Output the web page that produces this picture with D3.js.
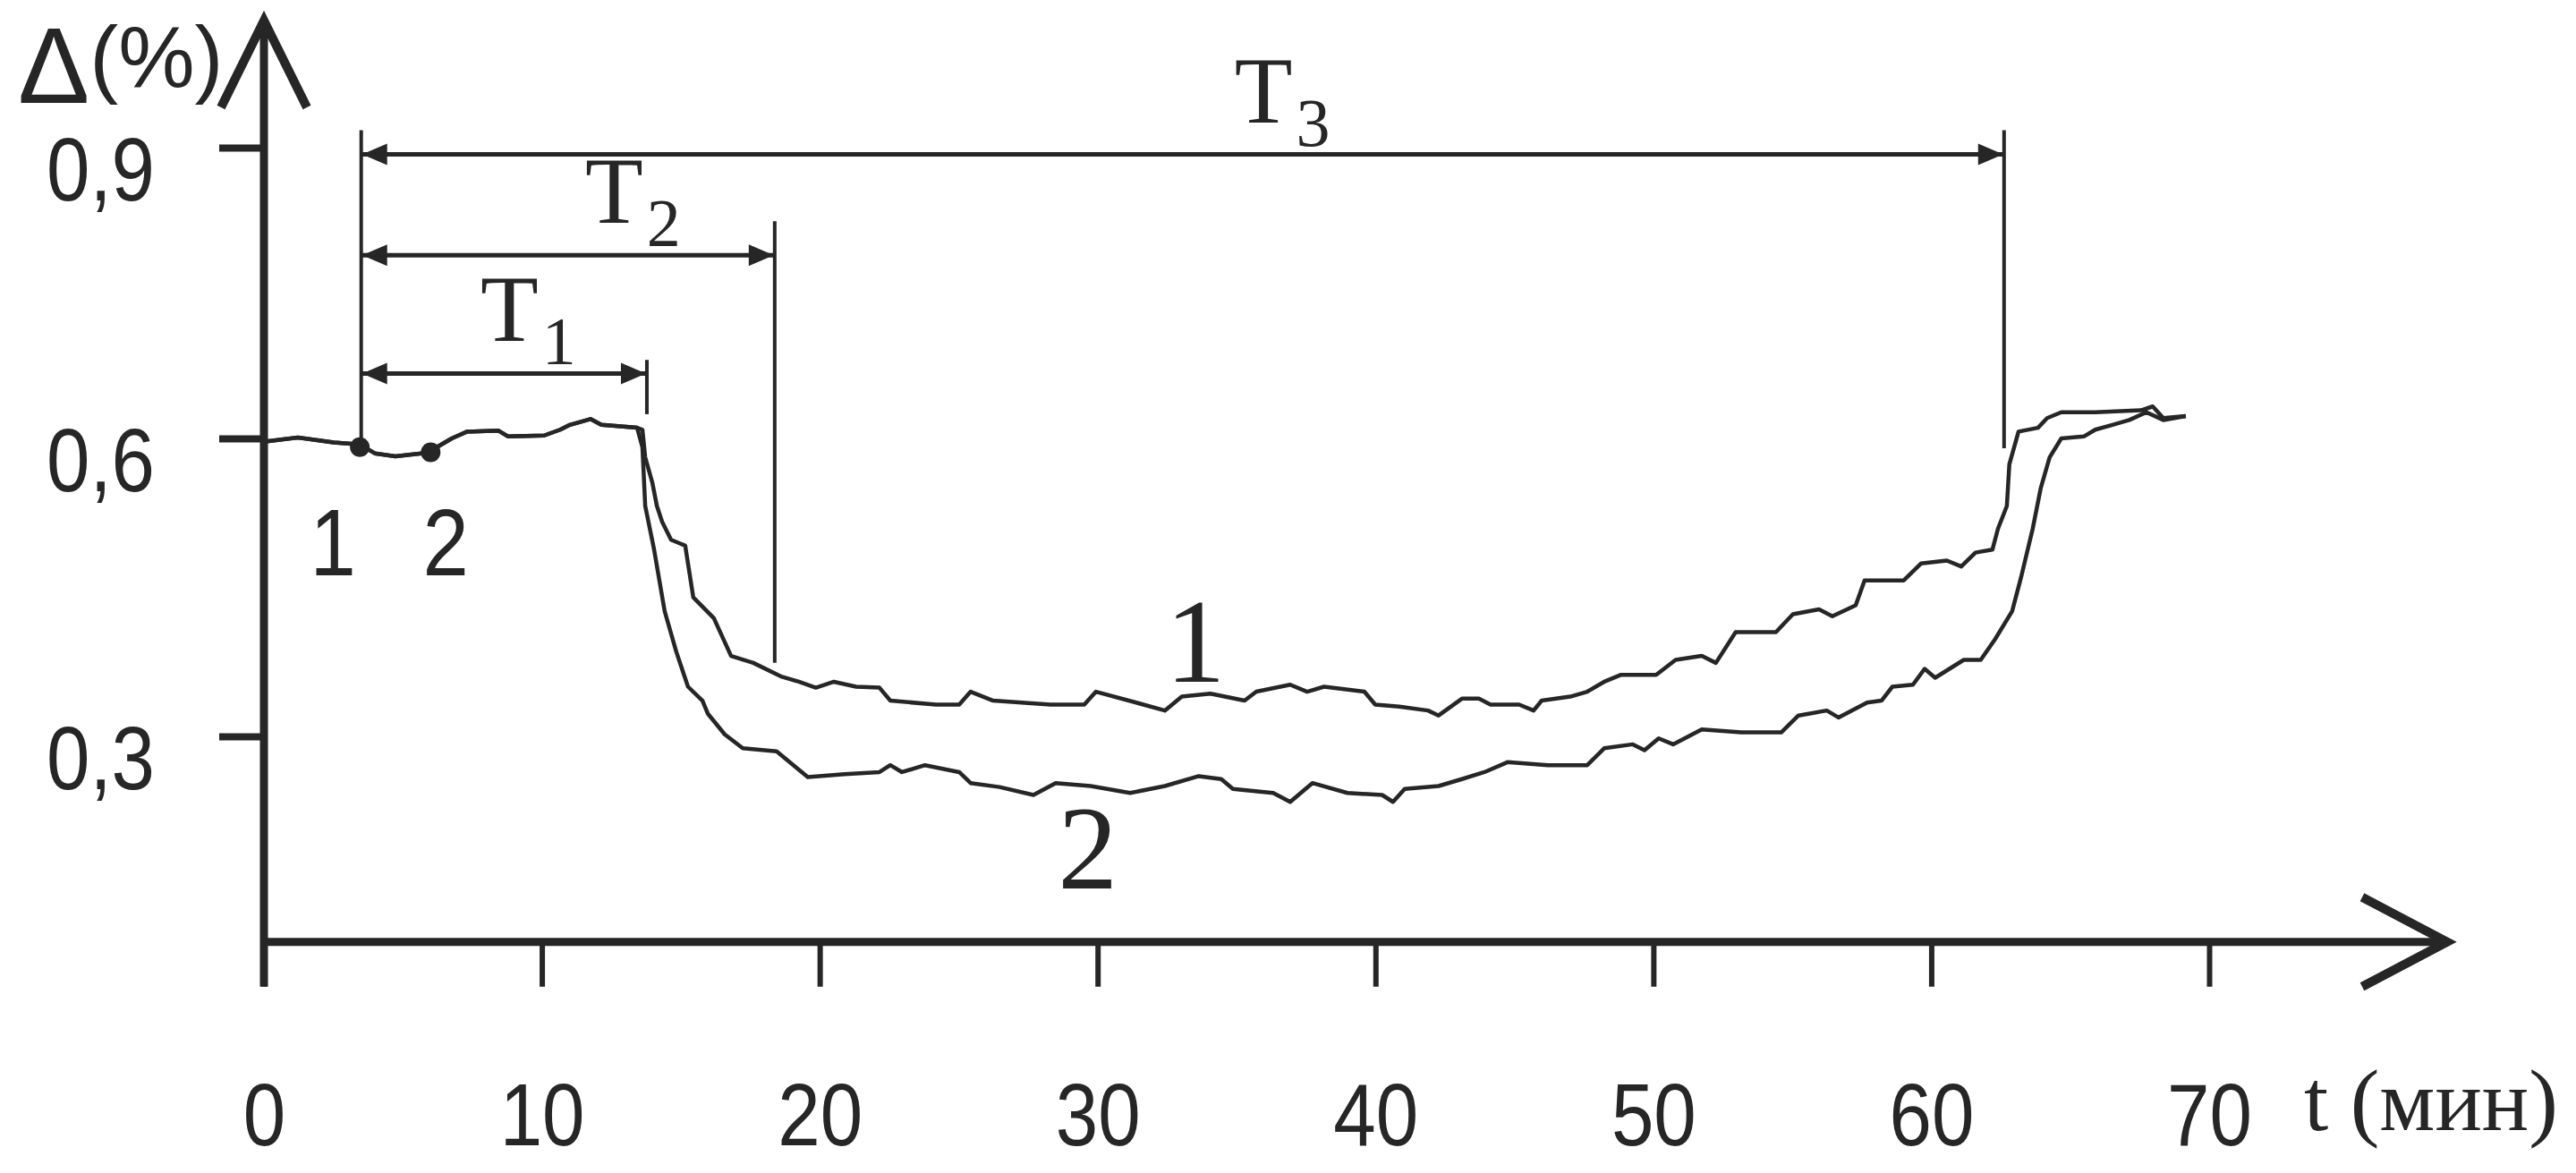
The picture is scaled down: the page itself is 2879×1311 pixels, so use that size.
<!DOCTYPE html>
<html>
<head>
<meta charset="utf-8">
<style>
  body { margin: 0; background: #fff; }
  svg { display: block; }
</style>
<title>Δ(%) от t</title>
</head>
<body>
<script src="https://cdn.jsdelivr.net/npm/d3@7/dist/d3.min.js"></script>
<script>
// common start of both traces: t (мин), Δ (%)
var tShared = [0, 0.11, 1.22, 2.51, 3.44, 3.99, 4.73, 5.67, 6.21, 6.76, 7.31, 8.44, 8.79, 10.08, 10.66, 11.01, 11.75, 12.14, 13.43];
var dShared = [0.600, 0.597, 0.601, 0.596, 0.594, 0.585, 0.582, 0.585, 0.591, 0.600, 0.607, 0.608, 0.602, 0.603, 0.609, 0.614, 0.620, 0.614, 0.611];

// curve 1
var t1 = [13.62, 13.72, 13.98, 14.14, 14.33, 14.65, 15.16, 15.45, 16.19, 16.81, 17.61, 18.64, 19.25, 19.86, 20.51, 21.31, 22.15, 22.54, 24.18, 25.02,
  25.43, 26.24, 28.30, 29.52, 29.94, 31.39, 32.42, 33.03, 34.06, 35.29, 35.71, 36.93, 37.54, 38.15, 39.60, 39.99, 40.86, 41.89, 42.27, 43.11,
  43.72, 44.14, 45.17, 45.69, 45.98, 47.01, 47.62, 48.23, 48.84, 50.10, 50.80, 51.74, 52.25, 52.96, 54.41, 55.02, 55.96, 56.44, 57.28, 57.60,
  59.01, 59.63, 60.56, 61.08, 61.59, 62.20, 62.40, 62.72, 62.81, 63.14, 63.84, 64.17, 64.68, 65.90, 67.55, 67.97, 68.35, 69.16];
var d1 = [0.609, 0.581, 0.555, 0.532, 0.516, 0.498, 0.492, 0.440, 0.419, 0.381, 0.374, 0.360, 0.355, 0.349, 0.355, 0.350, 0.349, 0.336, 0.332, 0.332,
  0.345, 0.336, 0.332, 0.332, 0.345, 0.334, 0.326, 0.340, 0.343, 0.336, 0.345, 0.352, 0.345, 0.350, 0.345, 0.332, 0.330, 0.326, 0.321, 0.338,
  0.338, 0.332, 0.332, 0.326, 0.336, 0.340, 0.345, 0.355, 0.362, 0.362, 0.377, 0.381, 0.374, 0.405, 0.405, 0.423, 0.428, 0.421, 0.432, 0.457,
  0.457, 0.474, 0.477, 0.471, 0.485, 0.488, 0.509, 0.532, 0.574, 0.607, 0.611, 0.621, 0.627, 0.627, 0.629, 0.633, 0.621, 0.623];

// curve 2
var t2 = [13.62, 13.72, 14.04, 14.42, 14.84, 15.26, 15.78, 15.97, 16.58, 17.23, 18.45, 19.57, 20.89, 22.15, 22.54, 22.96, 23.79, 25.02, 25.43, 26.47,
  27.69, 28.49, 29.75, 31.17, 32.42, 33.64, 34.45, 34.87, 36.32, 36.93, 37.73, 38.99, 40.24, 40.63, 41.05, 42.27, 43.11, 43.92, 44.75, 46.20,
  47.62, 48.23, 49.26, 49.68, 50.19, 50.71, 51.74, 53.16, 54.60, 55.22, 56.24, 56.66, 57.69, 58.21, 58.60, 59.34, 59.76, 60.14, 61.17, 61.78,
  62.30, 62.91, 63.23, 63.65, 63.94, 64.26, 64.68, 65.49, 65.90, 66.52, 67.13, 67.74, 68.35, 69.16];
var d2 = [0.591, 0.532, 0.488, 0.426, 0.385, 0.350, 0.336, 0.323, 0.302, 0.288, 0.285, 0.259, 0.262, 0.264, 0.271, 0.264, 0.271, 0.264, 0.253, 0.249,
  0.241, 0.253, 0.250, 0.243, 0.250, 0.260, 0.257, 0.247, 0.243, 0.234, 0.253, 0.243, 0.241, 0.234, 0.247, 0.250, 0.257, 0.264, 0.274, 0.271,
  0.271, 0.288, 0.292, 0.286, 0.298, 0.292, 0.307, 0.304, 0.304, 0.321, 0.326, 0.319, 0.334, 0.336, 0.350, 0.352, 0.368, 0.359, 0.377, 0.377,
  0.398, 0.426, 0.460, 0.509, 0.550, 0.581, 0.600, 0.602, 0.609, 0.614, 0.619, 0.627, 0.619, 0.623];

var xTicks = [0, 10, 20, 30, 40, 50, 60, 70];
var yTicks = [0.3, 0.6, 0.9];

// start marks of the two curves (t, мин)
var startNames = ["1", "2"];
var startTimes = [3.45, 6.0];
var startLabelT = [2.48, 6.54];
var startLabelD = 0.462;

// intervals T1, T2, T3
var intNames = ["1", "2", "3"];
var intFrom = 3.5;
var intTo = [13.78, 18.38, 62.62];
var intLevel = [0.667, 0.789, 0.893];
var intTop = [0.681, 0.824, 0.918];
var intBottom = [0.625, 0.374, 0.590];
var intLabelT = [7.79, 11.56, 34.93];
var intFromBottom = 0.591;

// curve names
var curveNames = ["1", "2"];
var curveLabelT = [33.52, 29.65];
var curveLabelD = [0.355, 0.147];

var W = 2879, H = 1311;
var ink = "#262626";
var sans = "'Liberation Sans', Arial, sans-serif";
var serif = "'Liberation Serif', 'Times New Roman', serif";

var x = d3.scaleLinear().domain([0, 70]).range([295, 2469]);
// the tick spacing of the original is not quite even
var y = d3.scaleLinear().domain([0.3, 0.6, 0.9]).range([823, 490, 165]);
var yBase = 0.093;   // level where the t axis crosses

var svg = d3.select("body").append("svg")
  .attr("width", W).attr("height", H)
  .style("background", "#fff");

var x0 = x(0), y0 = y(yBase);

// axes
var gx = svg.append("g")
  .attr("transform", "translate(0," + y0 + ")")
  .call(d3.axisBottom(x).tickValues(xTicks).tickSize(50).tickFormat(d3.format("d")));
gx.select(".domain").remove();
gx.selectAll(".tick line").attr("stroke", ink).attr("stroke-width", 6);
gx.selectAll(".tick text")
  .attr("y", 227).attr("dy", null)
  .attr("fill", ink)
  .attr("font-family", sans).attr("font-size", 98)
  .attr("transform", "scale(0.87,1)");

var gy = svg.append("g")
  .attr("transform", "translate(" + x0 + ",0)")
  .call(d3.axisLeft(y).tickValues(yTicks).tickSize(50)
    .tickFormat(function(d){ return d3.format(".1f")(d).replace(".", ","); }));
gy.select(".domain").remove();
gy.selectAll(".tick line").attr("stroke", ink).attr("stroke-width", 8);
gy.selectAll(".tick text")
  .attr("x", -122 / 0.87).attr("dy", null).attr("y", 58)
  .attr("fill", ink)
  .attr("font-family", sans).attr("font-size", 100)
  .attr("transform", "scale(0.87,1)");

// axis lines with open arrow heads
var xEnd = 2735, yEnd = 23;
svg.append("line").attr("x1", x0).attr("x2", xEnd).attr("y1", y0).attr("y2", y0)
  .attr("stroke", ink).attr("stroke-width", 9);
svg.append("line").attr("x1", x0).attr("x2", x0).attr("y1", y0 + 50).attr("y2", yEnd + 4)
  .attr("stroke", ink).attr("stroke-width", 9);
svg.append("path")
  .attr("d", "M" + (xEnd - 95) + "," + (y0 - 50) + "L" + xEnd + "," + y0 + "L" + (xEnd - 95) + "," + (y0 + 50))
  .attr("fill", "none").attr("stroke", ink).attr("stroke-width", 10).attr("stroke-linejoin", "miter");
svg.append("path")
  .attr("d", "M" + (x0 - 48) + "," + (yEnd + 97) + "L" + x0 + "," + yEnd + "L" + (x0 + 48) + "," + (yEnd + 97))
  .attr("fill", "none").attr("stroke", ink).attr("stroke-width", 10).attr("stroke-linejoin", "miter");

// axis titles
var yt = svg.append("text").attr("x", 20).attr("y", 115).attr("fill", ink).attr("font-family", sans);
yt.append("tspan").attr("font-size", 120).text("Δ");
yt.append("tspan").attr("font-size", 96).attr("dy", -18).text("(%)");

svg.append("text").attr("x", 2575).attr("y", 1263)
  .attr("fill", ink).attr("font-family", serif).attr("font-size", 98)
  .text("t (мин)");

// curves
function pts(ts, ds) { return ts.map(function(t, i){ return [t, ds[i]]; }); }
var shared = pts(tShared, dShared);
var curves = [shared.concat(pts(t1, d1)), shared.concat(pts(t2, d2))];

var line = d3.line()
  .x(function(d){ return x(d[0]); })
  .y(function(d){ return y(d[1]); });

svg.selectAll("path.curve").data(curves).enter()
  .append("path")
  .attr("class", "curve")
  .attr("d", line)
  .attr("fill", "none")
  .attr("stroke", ink)
  .attr("stroke-width", 4.5)
  .attr("stroke-linejoin", "round");

// value of a curve at t
function at(c, t) {
  var i = d3.bisector(function(d){ return d[0]; }).left(c, t);
  if (i <= 0) return c[0][1];
  var a = c[i - 1], b = c[i];
  return a[1] + (b[1] - a[1]) * (t - a[0]) / (b[0] - a[0]);
}

// start dots and their numbers
svg.selectAll("circle.start").data(startTimes).enter()
  .append("circle")
  .attr("cx", function(d){ return x(d); })
  .attr("cy", function(d, i){ return y(at(curves[i], d)) + 3; })
  .attr("r", 11)
  .attr("fill", ink);

svg.selectAll("text.start").data(startNames).enter()
  .append("text")
  .attr("transform", function(d, i){ return "translate(" + x(startLabelT[i]) + "," + y(startLabelD) + ") scale(0.87,1)"; })
  .attr("text-anchor", "middle")
  .attr("fill", ink).attr("font-family", sans).attr("font-size", 106)
  .text(function(d){ return d; });

// interval brackets
svg.append("line")
  .attr("x1", x(intFrom)).attr("x2", x(intFrom))
  .attr("y1", y(d3.max(intTop))).attr("y2", y(intFromBottom))
  .attr("stroke", ink).attr("stroke-width", 4);

var gi = svg.selectAll("g.int").data(intTo).enter().append("g").attr("class", "int");
gi.append("line")
  .attr("x1", function(d){ return x(d); }).attr("x2", function(d){ return x(d); })
  .attr("y1", function(d, i){ return y(intTop[i]); })
  .attr("y2", function(d, i){ return y(intBottom[i]); })
  .attr("stroke", ink).attr("stroke-width", 4);
gi.append("line")
  .attr("x1", x(intFrom)).attr("x2", function(d){ return x(d); })
  .attr("y1", function(d, i){ return y(intLevel[i]); })
  .attr("y2", function(d, i){ return y(intLevel[i]); })
  .attr("stroke", ink).attr("stroke-width", 5);
// small filled arrow heads at both ends
gi.append("path")
  .attr("d", function(d, i){
    var yy = y(intLevel[i]), a = x(intFrom) + 1, b = x(d) - 1;
    return "M" + a + "," + yy + "L" + (a + 28) + "," + (yy - 12) + "L" + (a + 28) + "," + (yy + 12) + "Z" +
           "M" + b + "," + yy + "L" + (b - 28) + "," + (yy - 12) + "L" + (b - 28) + "," + (yy + 12) + "Z";
  })
  .attr("fill", ink);
var lab = gi.append("text")
  .attr("x", function(d, i){ return x(intLabelT[i]); })
  .attr("y", function(d, i){ return y(intLevel[i]) - 36; })
  .attr("fill", ink).attr("font-family", serif).attr("font-size", 106);
lab.append("tspan").text("T");
lab.append("tspan").attr("font-size", 76).attr("dx", 4).attr("dy", 26)
  .text(function(d, i){ return intNames[i]; });

// curve numbers
svg.selectAll("text.curve").data(curveNames).enter()
  .append("text")
  .attr("x", function(d, i){ return x(curveLabelT[i]); })
  .attr("y", function(d, i){ return y(curveLabelD[i]); })
  .attr("text-anchor", "middle")
  .attr("fill", ink).attr("font-family", serif).attr("font-size", 134)
  .text(function(d){ return d; });
</script>
</body>
</html>
